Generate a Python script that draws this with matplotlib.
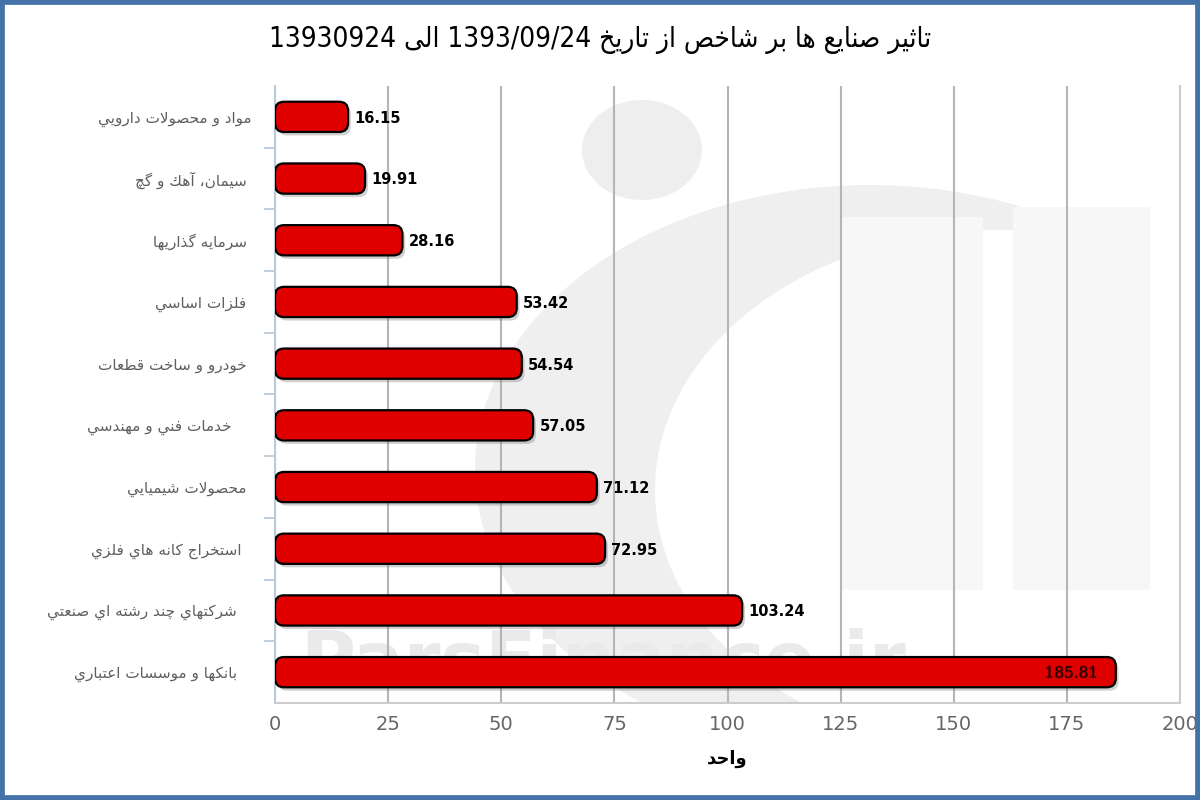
import matplotlib.pyplot as plt
from matplotlib.patches import FancyBboxPatch, Rectangle, Ellipse
import matplotlib.patheffects as pe
import numpy as np

# ---- data ----
title = 'تاثير صنايع ها بر شاخص از تاريخ 1393/09/24 الى 13930924'
x_label = 'واحد'
categories = ['مواد و محصولات دارويي',
              ' سيمان، آهك و گچ',
              ' سرمايه گذاريها',
              ' فلزات اساسي',
              ' خودرو و ساخت قطعات',
              '    خدمات فني و مهندسي',
              ' محصولات شيميايي',
              '  استخراج كانه هاي فلزي',
              '   شركتهاي چند رشته اي صنعتي',
              '   بانكها و موسسات اعتباري']
values = [16.15, 19.91, 28.16, 53.42, 54.54, 57.05, 71.12, 72.95, 103.24, 185.81]
x_ticks = [0, 25, 50, 75, 100, 125, 150, 175, 200]
watermark = 'ParsFinance.ir'


# ---- minimal arabic shaping (matplotlib has no text shaping) ----
# forms are (isolated, final, initial, medial); two forms -> right joining only
FORMS = {}
_code = 0xFE80
for ch, n in zip('ءآأؤإئابةتثجحخدذرزسشصضطظعغ',
                 [1, 2, 2, 2, 2, 4, 2, 4, 2, 4, 4, 4, 4, 4, 2, 2, 2, 2,
                  4, 4, 4, 4, 4, 4, 4, 4]):
    FORMS[ch] = tuple(range(_code, _code + n))
    _code += n
for ch, n in zip('فقكلمنهوىي', [4, 4, 4, 4, 4, 4, 4, 2, 2, 4]):
    FORMS[ch] = tuple(range(_code, _code + n))
    _code += n
for ch, start, n in [('پ', 0xFB56, 4), ('چ', 0xFB7A, 4), ('ژ', 0xFB8A, 2),
                     ('ک', 0xFB8E, 4), ('گ', 0xFB92, 4), ('ی', 0xFBFC, 4)]:
    FORMS[ch] = tuple(range(start, start + n))
LAM_ALEF = {'آ': (0xFEF5, 0xFEF6), 'أ': (0xFEF7, 0xFEF8),
            'إ': (0xFEF9, 0xFEFA), 'ا': (0xFEFB, 0xFEFC)}


def shape_word(word):
    """Replace letters with their contextual presentation forms."""
    out = []
    prev_dual = False
    i = 0
    while i < len(word):
        c = word[i]
        nxt = word[i + 1] if i + 1 < len(word) else ''
        if c == 'ل' and nxt in LAM_ALEF:
            iso, fin = LAM_ALEF[nxt]
            out.append(chr(fin if prev_dual else iso))
            prev_dual = False
            i += 2
            continue
        f = FORMS.get(c)
        if f is None or len(f) == 1:
            out.append(c)
            prev_dual = False
        else:
            jp = prev_dual
            jn = len(f) == 4 and nxt in FORMS and len(FORMS[nxt]) > 1
            if jp and jn:
                g = f[3]
            elif jp:
                g = f[1]
            elif jn:
                g = f[2]
            else:
                g = f[0]
            out.append(chr(g))
            prev_dual = len(f) == 4
        i += 1
    return ''.join(out)


def rtl(text):
    """Visual order for a right-to-left line with embedded numbers."""
    words = []
    for w in text.split(' '):
        if any(ch in FORMS for ch in w):
            w = shape_word(w)[::-1]
        words.append(w)
    return ' '.join(words[::-1])


# ---- figure ----
W, H = 1200, 800
fig = plt.figure(figsize=(W / 100, H / 100), dpi=100)
ax_rect = [275 / W, 1 - 703 / H, 905 / W, 617 / H]
ax = fig.add_axes(ax_rect)


def px_ellipse(cx, cy, w, h, color):
    # background logo shapes, placed in picture pixels
    e = Ellipse((cx / W, 1 - cy / H), w / W, h / H, transform=fig.transFigure,
                fc=color, ec='none', zorder=0.1)
    ax.add_patch(e)
    e.set_clip_path(ax.patch)


def px_rect(x0, y0, x1, y1, color):
    r = Rectangle((x0 / W, 1 - y1 / H), (x1 - x0) / W, (y1 - y0) / H,
                  transform=fig.transFigure, fc=color, ec='none', zorder=0.12)
    ax.add_patch(r)
    r.set_clip_path(ax.patch)


# faint logo behind the chart
px_ellipse(870, 470, 790, 570, '#efefef')
px_ellipse(1000, 490, 690, 520, 'white')
px_ellipse(642, 150, 120, 100, '#eeeeee')
px_rect(842, 217, 983, 590, '#f7f7f7')
px_rect(1013, 207, 1150, 590, '#f7f7f7')

y = np.arange(len(categories))
bars = ax.barh(y, values, height=0.49, color='none', linewidth=0)
ax.set_xlim(x_ticks[0], x_ticks[-1])
ax.set_ylim(len(categories) - 0.5, -0.5)

# rounded bars: keep the corner radius round in pixels
w_px, h_px = ax_rect[2] * W, ax_rect[3] * H
x_per_px = (x_ticks[-1] - x_ticks[0]) / w_px
y_per_px = len(categories) / h_px
asp = y_per_px / x_per_px
radius = 9 * x_per_px
for bar, v in zip(bars, values):
    p = FancyBboxPatch((bar.get_x(), bar.get_y()), bar.get_width(),
                       bar.get_height(),
                       boxstyle='round,pad=0,rounding_size=%f' % radius,
                       mutation_aspect=asp, fc='#e00000', ec='black',
                       lw=1.6, zorder=3)
    p.set_path_effects([pe.SimplePatchShadow(offset=(2, -2.5),
                                             shadow_rgbFace='#666666',
                                             alpha=0.3),
                        pe.Normal()])
    ax.add_patch(p)
    yc = bar.get_y() + bar.get_height() / 2
    if v == max(values):
        ax.annotate('%.2f' % v, (v, yc), xytext=(-13, -1),
                    textcoords='offset points', ha='right', va='center',
                    fontsize=11, family='DejaVu Serif', color='#150000',
                    zorder=5,
                    path_effects=[pe.withStroke(linewidth=1.0,
                                                foreground='#990000')])
    else:
        ax.annotate('%.2f' % v, (v, yc), xytext=(4.5, -1),
                    textcoords='offset points', ha='left', va='center',
                    fontsize=10.5, fontweight='bold', color='black',
                    zorder=5)

# watermark
ax.text(5.5, 8.88, watermark, fontsize=54, fontweight='bold',
        color='#eaeaea', va='center', ha='left', zorder=0.2)

# axes formatting
ax.set_xticks(x_ticks)
ax.xaxis.grid(True, color='#b5b5b5', lw=1.5)
ax.set_axisbelow(True)
ax.tick_params(axis='x', length=0, labelsize=14, labelcolor='#666666',
               pad=9)
ax.set_yticks(y)
ax.set_yticklabels([rtl(c) for c in categories], fontsize=11,
                   color='#5f5f5f')
ax.tick_params(axis='y', which='major', length=0, pad=17)
ax.set_yticks(np.arange(len(categories) - 1) + 0.5, minor=True)
ax.tick_params(axis='y', which='minor', length=8, width=1.3,
               color='#bccbdb')
ax.spines['top'].set_visible(False)
ax.spines['left'].set_color('#bccbdb')
ax.spines['left'].set_linewidth(1.5)
for s in ['bottom', 'right']:
    ax.spines[s].set_color('#cccccc')
    ax.spines[s].set_linewidth(1.5)

ax.set_xlabel(rtl(x_label), fontsize=13, fontweight='bold', labelpad=11)
fig.text(0.5, 1 - 40 / H, rtl(title), ha='center', va='center',
         fontsize=20, family='DejaVu Sans', fontstretch='condensed')

# blue frame round the picture
fig.add_artist(Rectangle((0, 0), 1, 1, transform=fig.transFigure,
                         fill=False, ec='#4572a7', lw=7))

plt.savefig('out.png', dpi=100)
